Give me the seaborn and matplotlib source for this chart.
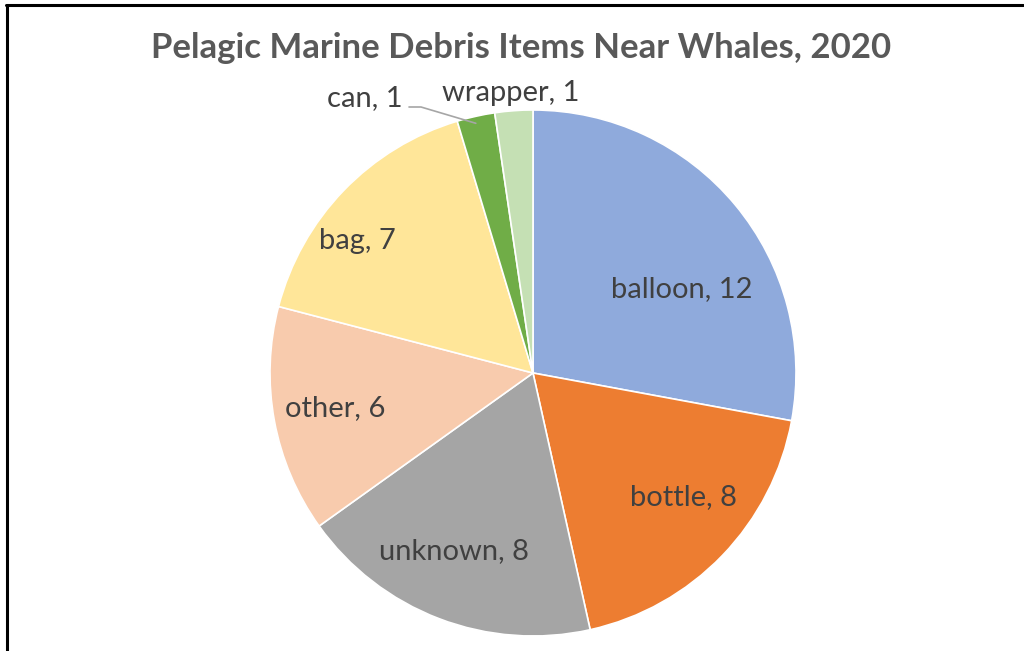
import matplotlib
matplotlib.use("Agg")
import matplotlib.pyplot as plt
import seaborn as sns
import numpy as np

sns.set_theme(style="white")
plt.rcParams['font.family'] = ['Lato', 'DejaVu Sans']

categories = ["balloon", "bottle", "unknown", "other", "bag", "can", "wrapper"]
counts = [12, 8, 8, 6, 7, 1, 1]
colors = ["#8FAADC", "#ED7D31", "#A5A5A5", "#F8CBAD", "#FFE699", "#70AD47", "#C5E0B4"]
title = "Pelagic Marine Debris Items Near Whales, 2020"

W, H = 1024, 651
fig = plt.figure(figsize=(W / 100, H / 100), dpi=100)
ax = fig.add_axes([0, 0, 1, 1])

cx, cy, R = 533, H - 373, 263
wedges, _ = ax.pie(counts, colors=colors, startangle=90, counterclock=False,
                   center=(cx, cy), radius=R,
                   wedgeprops=dict(edgecolor="white", linewidth=1.2))
ax.set_xlim(0, W)
ax.set_ylim(0, H)
ax.set_aspect("equal", adjustable="box")
ax.axis("off")

LABEL_SIZE = 21
# label placement: (angle shift in degrees, distance as fraction of radius)
inside = {
    "balloon": (-10.5, 0.65),
    "bottle": (4.5, 0.74),
    "unknown": (-3, 0.74),
    "other": (-0.5, 0.765),
    "bag": (7, 0.835),
}
for w, cat, n in zip(wedges, categories, counts):
    mid = 0.5 * (w.theta1 + w.theta2)
    if cat in inside:
        da, fr = inside[cat]
        a = np.deg2rad(mid + da)
        ax.text(cx + fr * R * np.cos(a), cy + fr * R * np.sin(a), f"{cat}, {n}",
                ha="center", va="center", fontsize=LABEL_SIZE, color="#404040")

# outside labels for the two smallest slices
can_w = wedges[categories.index("can")]
wr_w = wedges[categories.index("wrapper")]
a_can = np.deg2rad(0.5 * (can_w.theta1 + can_w.theta2))
edge = (cx + R * np.cos(a_can), cy + R * np.sin(a_can) - 7)
ax.plot([409, 421, edge[0]], [H - 107, H - 107, edge[1]], color="#A6A6A6", lw=1.2)
ax.text(403, H - 98, f"{categories[5]}, {counts[5]}", ha="right", va="center",
        fontsize=LABEL_SIZE, color="#404040")
a_wr = np.deg2rad(0.5 * (wr_w.theta1 + wr_w.theta2))
ax.text(cx + 1.07 * R * np.cos(a_wr) - 2, H - 93, f"{categories[6]}, {counts[6]}",
        ha="center", va="center", fontsize=LABEL_SIZE, color="#404040")

ax.text(521, H - 48, title, ha="center", va="center", fontsize=25,
        fontweight="bold", color="#595959")

# chart frame: left and top edges
fig.add_artist(plt.Line2D([7 / W, 7 / W], [0, 1 - 5 / H], color="black", lw=2.2,
                          transform=fig.transFigure))
fig.add_artist(plt.Line2D([6 / W, 1023 / W], [1 - 5 / H, 1 - 5 / H], color="black", lw=2.2,
                          transform=fig.transFigure))

fig.savefig("out.png", dpi=100, facecolor="white")
